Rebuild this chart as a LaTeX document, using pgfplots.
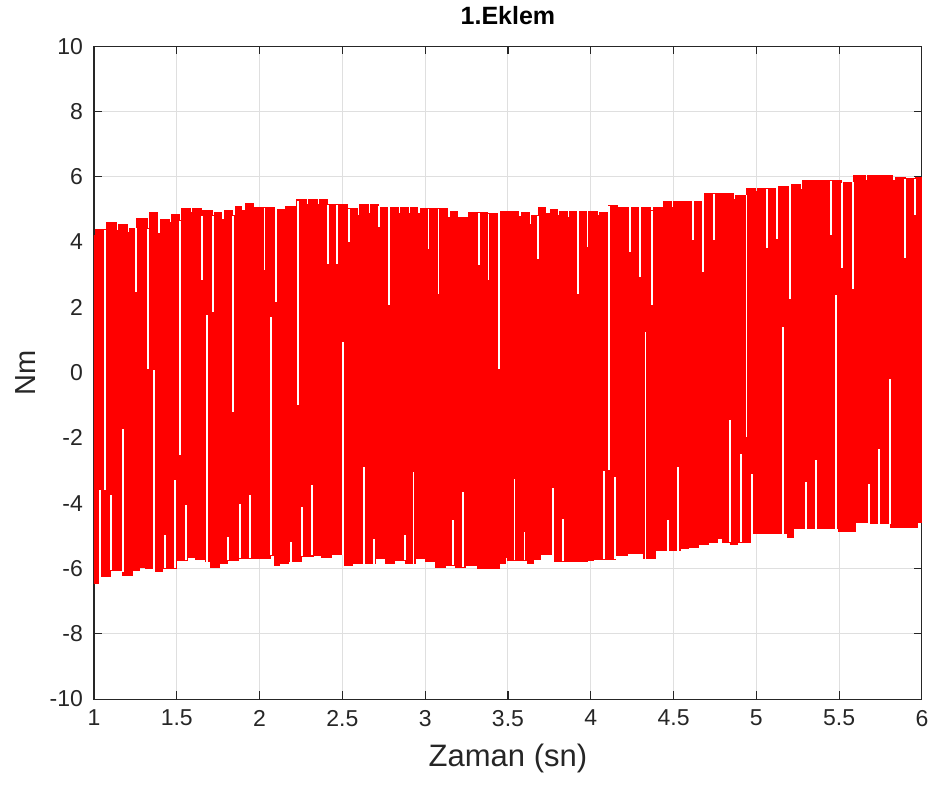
\documentclass[border=0pt]{standalone}
\usepackage{fontspec}
\setmainfont{Liberation Sans}
\usepackage{pgfplots}
\usepackage{pgfplotstable}
\pgfplotsset{compat=1.18}
\usepgfplotslibrary{fillbetween}
\definecolor{axgray}{RGB}{38,38,38}
\definecolor{gridgray}{RGB}{223,223,223}

% upper envelope (stepped)
\pgfplotstableread{
x y
1.000 4.20
1.010 4.38
1.074 4.60
1.135 4.35
1.149 4.55
1.201 4.30
1.215 4.42
1.256 4.71
1.322 4.40
1.336 4.90
1.383 4.25
1.403 4.70
1.457 4.60
1.467 4.85
1.517 4.65
1.527 5.04
1.580 4.90
1.592 5.04
1.648 4.80
1.658 4.95
1.713 4.80
1.725 4.90
1.773 4.70
1.789 4.97
1.839 4.80
1.854 5.10
1.890 4.97
1.916 5.17
1.964 5.05
2.091 5.00
2.157 5.10
2.222 5.30
2.286 5.15
2.298 5.30
2.347 5.15
2.359 5.30
2.409 5.14
2.530 5.02
2.590 4.82
2.606 5.14
2.659 4.87
2.671 5.14
2.721 5.07
2.836 4.87
2.848 5.07
2.902 4.87
2.914 5.07
2.951 4.87
2.969 5.02
3.134 4.75
3.150 4.94
3.194 4.75
3.259 4.90
3.379 4.87
3.436 4.70
3.452 4.94
3.500 4.93
3.566 4.78
3.581 4.90
3.631 4.55
3.645 4.80
3.687 5.07
3.727 4.87
3.758 5.00
3.798 4.80
3.814 4.94
3.858 4.75
3.870 4.94
4.039 4.80
4.052 4.90
4.108 5.12
4.164 5.07
4.362 4.95
4.378 5.07
4.438 5.24
4.490 5.07
4.502 5.24
4.551 5.07
4.563 5.24
4.688 5.48
4.804 5.50
4.865 5.30
4.877 5.43
4.941 5.65
4.993 5.55
5.006 5.65
5.062 5.63
5.122 5.70
5.195 5.00
5.211 5.75
5.267 5.60
5.279 5.88
5.517 5.80
5.529 5.83
5.587 6.04
5.658 5.88
5.670 6.04
5.821 5.88
5.839 5.96
5.899 5.93
5.960 5.96
6.000 5.96
}\upperenv

% lower envelope (stepped)
\pgfplotstableread{
x y
1.000 -6.47
1.030 -6.26
1.101 -6.06
1.175 -6.23
1.232 -6.06
1.272 -5.96
1.312 -6.01
1.372 -6.09
1.413 -5.99
1.497 -5.75
1.564 -5.65
1.614 -5.72
1.674 -5.80
1.704 -5.96
1.755 -5.86
1.805 -5.75
1.874 -5.68
1.946 -5.70
2.067 -5.60
2.091 -5.90
2.121 -5.85
2.172 -5.80
2.256 -5.62
2.323 -5.60
2.373 -5.65
2.433 -5.58
2.510 -5.90
2.564 -5.86
2.699 -5.70
2.759 -5.86
2.812 -5.75
2.880 -5.86
2.941 -5.70
3.003 -5.80
3.063 -5.96
3.124 -5.90
3.184 -5.96
3.244 -5.90
3.315 -6.01
3.446 -5.86
3.486 -5.65
3.500 -5.75
3.617 -5.86
3.657 -5.72
3.697 -5.58
3.778 -5.78
3.888 -5.80
3.979 -5.75
4.019 -5.72
4.150 -5.60
4.221 -5.55
4.321 -5.70
4.392 -5.45
4.543 -5.40
4.593 -5.35
4.653 -5.28
4.714 -5.19
4.768 -5.09
4.798 -5.19
4.845 -5.27
4.885 -5.19
4.965 -4.94
5.187 -5.04
5.227 -4.78
5.499 -4.87
5.599 -4.58
5.680 -4.63
5.811 -4.76
5.972 -4.58
5.996 -4.43
6.000 -4.43
}\lowerenv

% white gaps in the switching signal (vertical segments)
\pgfplotstableread{
x y
1.066 4.38
1.066 -3.60
nan nan
1.255 4.42
1.255 2.47
nan nan
1.326 4.40
1.326 0.12
nan nan
1.520 4.65
1.520 -2.53
nan nan
1.650 4.80
1.650 2.83
nan nan
1.720 4.80
1.720 1.85
nan nan
1.840 4.80
1.840 -1.21
nan nan
2.030 5.05
2.030 3.14
nan nan
2.100 5.00
2.100 2.16
nan nan
2.230 5.25
2.230 -1.00
nan nan
2.413 5.14
2.413 3.33
nan nan
2.469 5.14
2.469 3.33
nan nan
2.538 5.02
2.538 4.00
nan nan
2.720 5.10
2.720 4.46
nan nan
2.780 5.07
2.780 2.07
nan nan
3.020 5.02
3.020 3.79
nan nan
3.080 5.02
3.080 2.41
nan nan
3.325 4.90
3.325 3.29
nan nan
3.383 4.87
3.383 2.83
nan nan
3.445 4.70
3.445 0.12
nan nan
3.683 4.80
3.683 3.49
nan nan
3.923 4.94
3.923 2.41
nan nan
3.980 4.94
3.980 3.84
nan nan
4.110 5.10
4.110 -2.98
nan nan
4.237 5.07
4.237 3.69
nan nan
4.295 5.07
4.295 2.92
nan nan
4.370 4.95
4.370 2.07
nan nan
4.617 5.24
4.617 4.06
nan nan
4.676 5.24
4.676 3.08
nan nan
4.744 5.48
4.744 4.06
nan nan
4.940 5.43
4.940 -1.98
nan nan
5.066 5.63
5.066 3.81
nan nan
5.126 5.70
5.126 4.10
nan nan
5.203 5.00
5.203 2.26
nan nan
5.449 5.88
5.449 4.22
nan nan
5.517 5.80
5.517 3.20
nan nan
5.584 5.83
5.584 2.57
nan nan
5.900 5.93
5.900 3.50
nan nan
5.956 5.93
5.956 4.82
nan nan
1.034 -6.26
1.034 -3.60
nan nan
1.105 -6.06
1.105 -3.75
nan nan
1.175 -6.10
1.175 -1.72
nan nan
1.360 -6.01
1.360 0.08
nan nan
1.430 -5.99
1.430 -4.98
nan nan
1.487 -5.99
1.487 -3.30
nan nan
1.557 -5.75
1.557 -4.06
nan nan
1.684 -5.80
1.684 1.76
nan nan
1.810 -5.75
1.810 -5.04
nan nan
1.880 -5.68
1.880 -4.02
nan nan
1.940 -5.68
1.940 -3.76
nan nan
2.067 -5.60
2.067 1.70
nan nan
2.190 -5.80
2.190 -5.19
nan nan
2.256 -5.62
2.256 -4.12
nan nan
2.318 -5.60
2.318 -3.45
nan nan
2.504 -5.58
2.504 0.93
nan nan
2.630 -5.86
2.630 -2.90
nan nan
2.690 -5.86
2.690 -5.09
nan nan
2.876 -5.75
2.876 -4.98
nan nan
2.930 -5.86
2.930 -3.05
nan nan
3.170 -5.90
3.170 -4.52
nan nan
3.230 -5.96
3.230 -3.66
nan nan
3.540 -5.75
3.540 -3.25
nan nan
3.600 -5.75
3.600 -4.88
nan nan
3.774 -5.58
3.774 -3.54
nan nan
3.830 -5.78
3.830 -4.48
nan nan
4.078 -5.72
4.078 -3.02
nan nan
4.144 -5.72
4.144 -3.20
nan nan
4.330 -5.70
4.330 1.24
nan nan
4.468 -5.45
4.468 -4.52
nan nan
4.527 -5.45
4.527 -2.90
nan nan
4.840 -5.19
4.840 -1.46
nan nan
4.905 -5.19
4.905 -2.49
nan nan
4.973 -4.94
4.973 -3.10
nan nan
5.160 -4.94
5.160 1.39
nan nan
5.298 -4.78
5.298 -3.35
nan nan
5.358 -4.78
5.358 -2.68
nan nan
5.483 -4.78
5.483 2.38
nan nan
5.680 -4.63
5.680 -3.40
nan nan
5.740 -4.63
5.740 -2.33
nan nan
5.807 -4.63
5.807 -0.19
}\gapdata

\begin{document}
\begin{tikzpicture}
\begin{axis}[
  scale only axis,
  width=414pt, height=326.5pt,
  xmin=1, xmax=6, ymin=-10, ymax=10,
  xtick={1,1.5,2,2.5,3,3.5,4,4.5,5,5.5,6},
  ytick={-10,-8,-6,-4,-2,0,2,4,6,8,10},
  tick align=inside,
  xtick pos=both, ytick pos=both,
  major tick length=4pt,
  tick style={color=axgray, line width=0.55pt},
  axis line style={color=axgray, line width=0.55pt},
  grid=major,
  major grid style={color=gridgray, line width=0.5pt},
  /pgf/number format/assume math mode=true,
  tick label style={color=axgray, font=\fontsize{11.5}{13}\selectfont},
  xticklabel style={yshift=-2pt},
  yticklabel style={xshift=-2pt},
  title={\textbf{1.Eklem}},
  title style={font=\fontsize{12.5}{14}\selectfont, yshift=1pt},
  xlabel={Zaman (sn)},
  ylabel={Nm},
  label style={color=axgray},
  xlabel style={font=\fontsize{15.5}{17}\selectfont, yshift=-2pt},
  ylabel style={font=\fontsize{14.5}{16}\selectfont},
  unbounded coords=jump,
]
\addplot[name path=U, red, line width=0.5pt, const plot, forget plot] table[x=x,y=y] {\upperenv};
\addplot[name path=L, red, line width=0.5pt, const plot, forget plot] table[x=x,y=y] {\lowerenv};
\addplot[red, draw=none, forget plot] fill between[of=U and L];
\addplot[white, line width=0.9pt, forget plot] table[x=x,y=y] {\gapdata};
\end{axis}
\path ([shift={(-47pt,-43.5pt)}]current axis.south west) rectangle ([shift={(6.5pt,22pt)}]current axis.north east);
\end{tikzpicture}
\end{document}
